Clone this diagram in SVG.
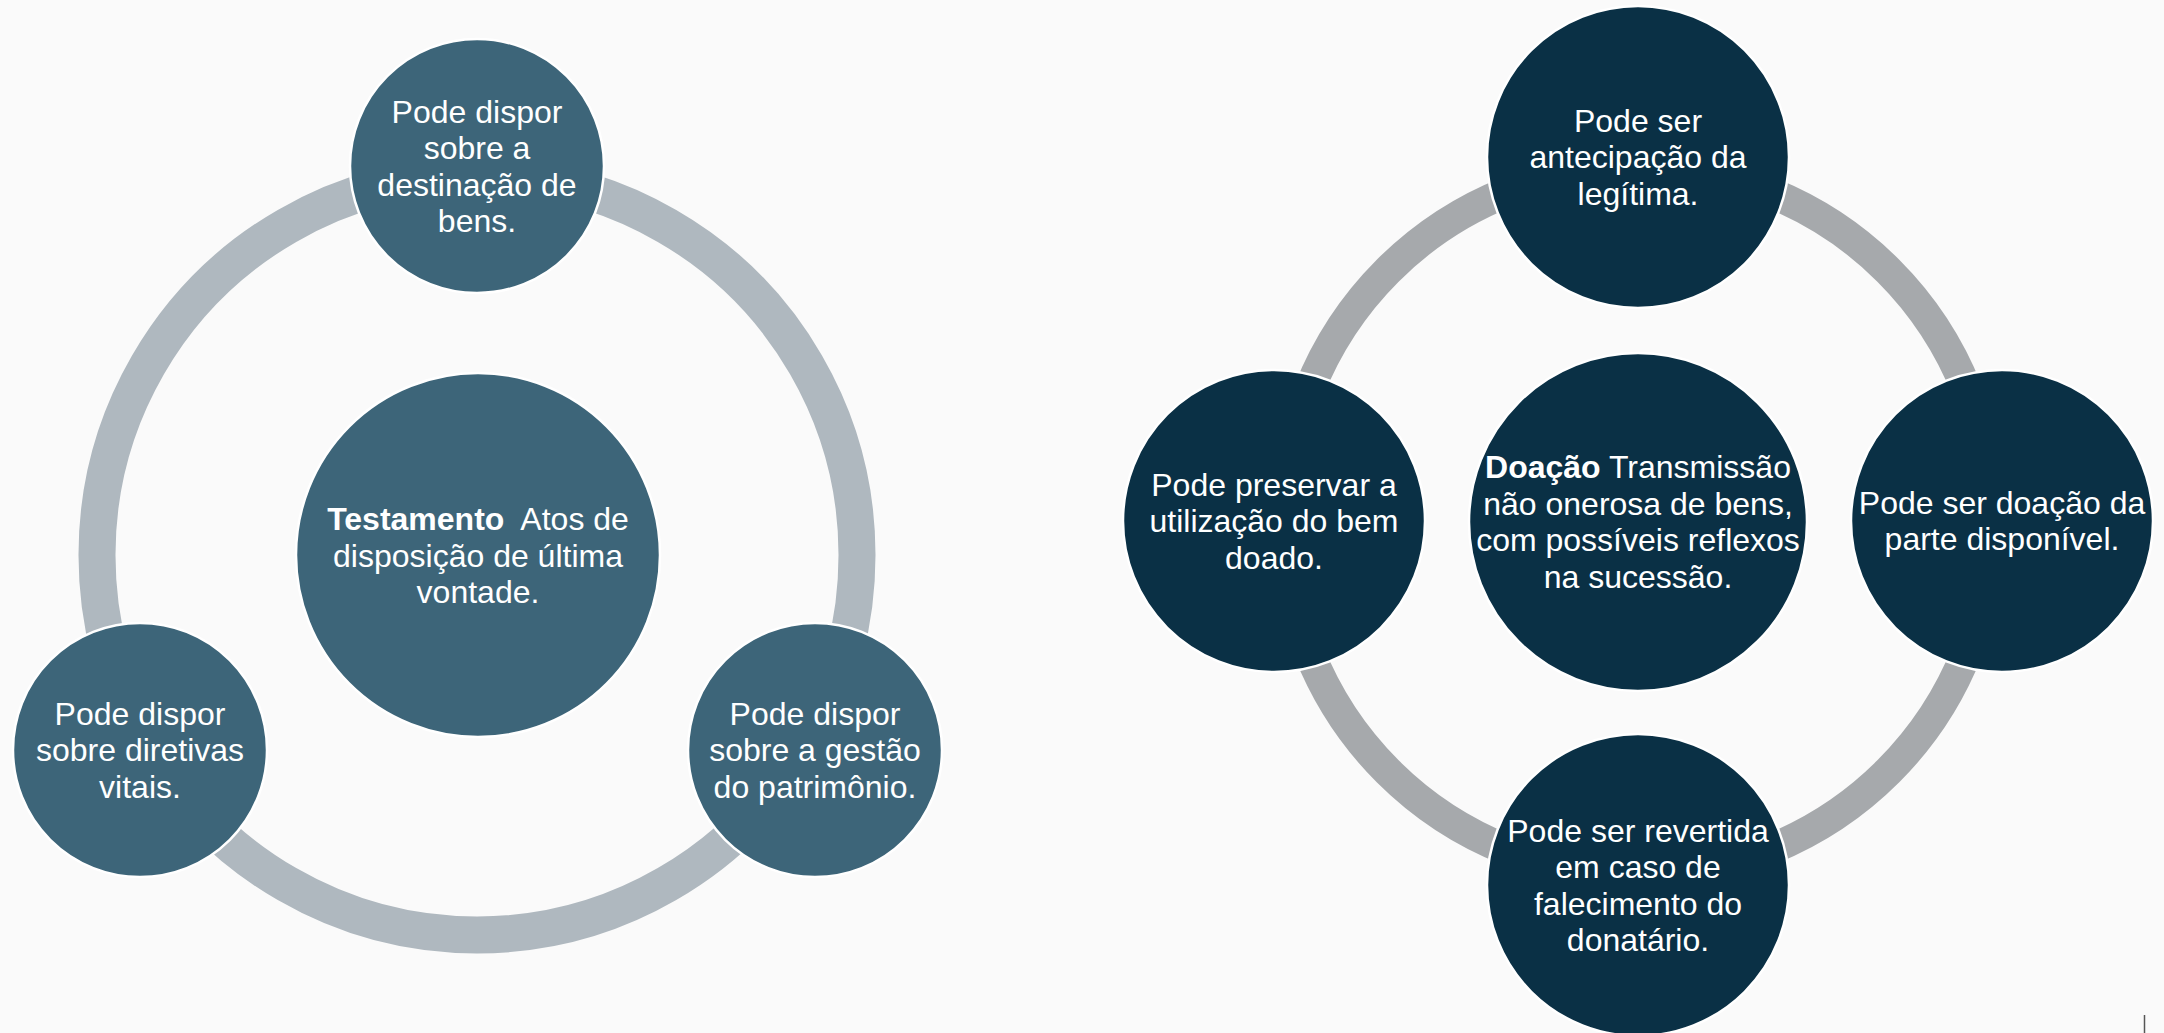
<svg xmlns="http://www.w3.org/2000/svg" width="2164" height="1033" viewBox="0 0 2164 1033">
<style>
.bg{fill:#FAFAFA}
.nL{fill:#3D6579;stroke:#FFFFFF;stroke-width:2.5}
.nR{fill:#0A3045;stroke:#FFFFFF;stroke-width:2.5}
.rL{fill:none;stroke:#AFB8BF;stroke-width:37}
.rR{fill:none;stroke:#A6A9AC;stroke-width:31}
.t{font-family:"Liberation Sans",Arial,sans-serif;font-size:32px;fill:#FFFFFF;text-anchor:middle}
.b{font-weight:bold}
</style>
<rect class="bg" x="0" y="0" width="2164" height="1033"/>
<g id="connectors">
  <path class="rL" d="M477,175 A380,380 0 0 1 806.1,745"/>
  <path class="rL" d="M806.1,745 A380,380 0 0 1 147.9,745"/>
  <path class="rL" d="M147.9,745 A380,380 0 0 1 477,175"/>
  <path class="rR" d="M1638,167 A354,354 0 0 1 1992,521"/>
  <path class="rR" d="M1992,521 A354,354 0 0 1 1638,875"/>
  <path class="rR" d="M1638,875 A354,354 0 0 1 1284,521"/>
  <path class="rR" d="M1284,521 A354,354 0 0 1 1638,167"/>
</g>
<g id="testamento">
  <circle class="nL" cx="478" cy="555" r="182"/>
  <text class="t" xml:space="preserve"><tspan x="478" y="530"><tspan class="b">Testamento</tspan>  Atos de</tspan><tspan x="478" y="566.5">disposição de última</tspan><tspan x="478" y="603">vontade.</tspan></text>
</g>
<g id="destinacao">
  <circle class="nL" cx="477" cy="166" r="127"/>
  <text class="t"><tspan x="477" y="122.5">Pode dispor</tspan><tspan x="477" y="159">sobre a</tspan><tspan x="477" y="195.5">destinação de</tspan><tspan x="477" y="232">bens.</tspan></text>
</g>
<g id="gestao">
  <circle class="nL" cx="815" cy="750" r="127"/>
  <text class="t"><tspan x="815" y="724.5">Pode dispor</tspan><tspan x="815" y="761">sobre a gestão</tspan><tspan x="815" y="797.5">do patrimônio.</tspan></text>
</g>
<g id="diretivas">
  <circle class="nL" cx="140" cy="750" r="127"/>
  <text class="t"><tspan x="140" y="724.5">Pode dispor</tspan><tspan x="140" y="761">sobre diretivas</tspan><tspan x="140" y="797.5">vitais.</tspan></text>
</g>
<g id="doacao">
  <circle class="nR" cx="1638" cy="522" r="169"/>
  <text class="t"><tspan x="1638" y="478"><tspan class="b">Doação</tspan> Transmissão</tspan><tspan x="1638" y="514.5">não onerosa de bens,</tspan><tspan x="1638" y="551">com possíveis reflexos</tspan><tspan x="1638" y="587.5">na sucessão.</tspan></text>
</g>
<g id="antecipacao">
  <circle class="nR" cx="1638" cy="157" r="151"/>
  <text class="t"><tspan x="1638" y="131.5">Pode ser</tspan><tspan x="1638" y="168">antecipação da</tspan><tspan x="1638" y="204.5">legítima.</tspan></text>
</g>
<g id="disponivel">
  <circle class="nR" cx="2002" cy="521" r="151"/>
  <text class="t"><tspan x="2002" y="513.5">Pode ser doação da</tspan><tspan x="2002" y="550">parte disponível.</tspan></text>
</g>
<g id="revertida">
  <circle class="nR" cx="1638" cy="885" r="151"/>
  <text class="t"><tspan x="1638" y="841.5">Pode ser revertida</tspan><tspan x="1638" y="878">em caso de</tspan><tspan x="1638" y="914.5">falecimento do</tspan><tspan x="1638" y="951">donatário.</tspan></text>
</g>
<g id="preservar">
  <circle class="nR" cx="1274" cy="521" r="151"/>
  <text class="t"><tspan x="1274" y="495.5">Pode preservar a</tspan><tspan x="1274" y="532">utilização do bem</tspan><tspan x="1274" y="568.5">doado.</tspan></text>
</g>
<line x1="2144.5" y1="1015" x2="2144.5" y2="1033" stroke="#555555" stroke-width="1.5"/>
</svg>
